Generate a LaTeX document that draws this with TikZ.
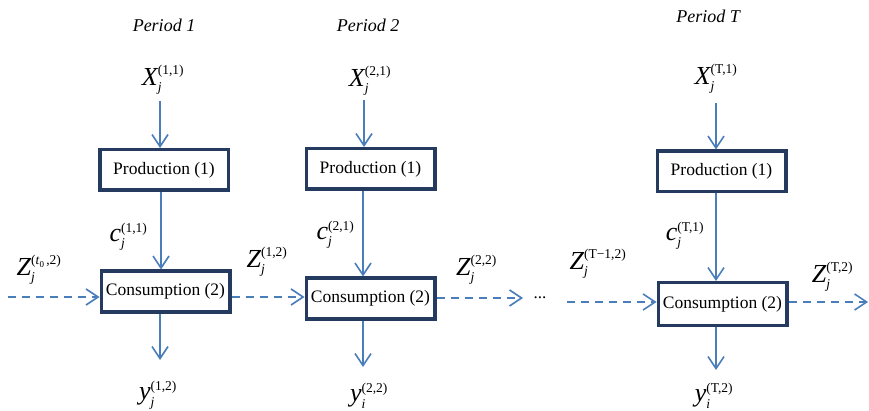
\documentclass[tikz,border=0pt]{standalone}
\usepackage{fontspec}
\setmainfont{Liberation Serif}
\usetikzlibrary{arrows.meta}
\definecolor{arrowblue}{RGB}{74,126,187}
\definecolor{boxnavy}{RGB}{36,58,94}
\newcommand\lbl[3]{$\mbox{\fontsize{26}{26}\selectfont\itshape #1}^{\mbox{\fontsize{13.5}{13.5}\selectfont #3}}_{\mbox{\fontsize{13.5}{13.5}\selectfont\itshape #2}}$}
\newcommand\tzero{(\textit{t}\raisebox{-2.5pt}{\fontsize{9}{9}\selectfont 0}\,,2)}
\begin{document}
\begin{tikzpicture}[x=1pt,y=-1pt,
  procbox/.style={draw=boxnavy, fill=white, line width=3.5pt, minimum width=128.5pt, minimum height=40.5pt, inner sep=0pt, font=\fontsize{17.5}{20}\selectfont},
  lab/.style={inner sep=0pt, font=\fontsize{26}{30}\selectfont},
  per/.style={inner sep=0pt, font=\fontsize{18}{22}\selectfont\itshape},
  flow/.style={draw=arrowblue, line width=1.6pt, -{Straight Barb[length=12pt,width=16pt]}},
  carry/.style={flow, dash pattern=on 8pt off 6pt}]
\useasboundingbox (0,0) rectangle (869,411);

% period titles
\node[per] (per1) at (164,25) {Period 1};
\node[per] (per2) at (368,25) {Period 2};
\node[per] (perT) at (708,16) {Period T};

% boxes
\node[procbox] (P1) at (164,170) {Production (1)};
\node[procbox] (C1) at (165.5,291.5) {Consumption (2)};
\node[procbox] (P2) at (370.5,169) {Production (1)};
\node[procbox] (C2) at (370.5,298.5) {Consumption (2)};
\node[procbox] (PT) at (721.5,171.5) {Production (1)};
\node[procbox, minimum height=42.5pt] (CT) at (722.5,304) {Consumption (2)};

% labels
\node[lab] (X11) at (163,80) {\lbl{X}{j}{(1,1)}};
\node[lab] (X21) at (370,81) {\lbl{X}{j}{(2,1)}};
\node[lab] (XT1) at (716,79) {\lbl{X}{j}{(T,1)}};
\node[lab] (c11) at (128.5,237) {\lbl{c}{j}{(1,1)}};
\node[lab] (c21) at (335.5,235) {\lbl{c}{j}{(2,1)}};
\node[lab] (cT1) at (685,236) {\lbl{c}{j}{(T,1)}};
\node[lab] (Zt0) at (39,270) {\lbl{Z}{j}{\tzero}};
\node[lab] (Z12) at (267,262) {\lbl{Z}{j}{(1,2)}};
\node[lab] (Z22) at (476.5,270) {\lbl{Z}{j}{(2,2)}};
\node[lab] (ZTm) at (598,264) {\lbl{Z}{j}{(T−1,2)}};
\node[lab] (ZT2) at (832.5,277) {\lbl{Z}{j}{(T,2)}};
\node[lab] (y12) at (158,395) {\lbl{y}{j}{(1,2)}};
\node[lab] (y22) at (369,396) {\lbl{y}{i}{(2,2)}};
\node[lab] (yT2) at (714,396) {\lbl{y}{i}{(T,2)}};
\node[inner sep=0pt, font=\fontsize{17}{20}\selectfont] (dots) at (540,298) {...};

% arrow anchor coordinates
\coordinate (a1) at (160,101);
\coordinate (b1) at (161,0);
\coordinate (d1) at (160,360);
\coordinate (a2) at (364,100);
\coordinate (b2) at (363,0);
\coordinate (d2) at (363,367);
\coordinate (aT) at (716,103);
\coordinate (bT) at (716,0);
\coordinate (dT) at (716,370);

\draw[flow] (a1) -- (P1.north -| a1);
\draw[flow] (P1.south -| b1) -- (C1.north -| b1);
\draw[flow] (C1.south -| d1) -- (d1);
\draw[flow] (a2) -- (P2.north -| a2);
\draw[flow] (P2.south -| b2) -- (C2.north -| b2);
\draw[flow] (C2.south -| d2) -- (d2);
\draw[flow] (aT) -- (PT.north -| aT);
\draw[flow] (PT.south -| bT) -- (CT.north -| bT);
\draw[flow] (CT.south -| dT) -- (dT);

% carry-over dashed arrows
\coordinate (s0) at (8,297);
\coordinate (m1) at (0,297);
\coordinate (e2) at (523,298);
\coordinate (s3) at (567,302);
\coordinate (e3) at (868,302);
\draw[carry] (s0) -- (C1.west |- s0);
\draw[carry] (C1.east |- m1) -- (C2.west |- m1);
\draw[carry] (C2.east |- e2) -- (e2);
\draw[carry] (s3) -- (CT.west |- s3);
\draw[carry] (CT.east |- e3) -- (e3);
\end{tikzpicture}
\end{document}
